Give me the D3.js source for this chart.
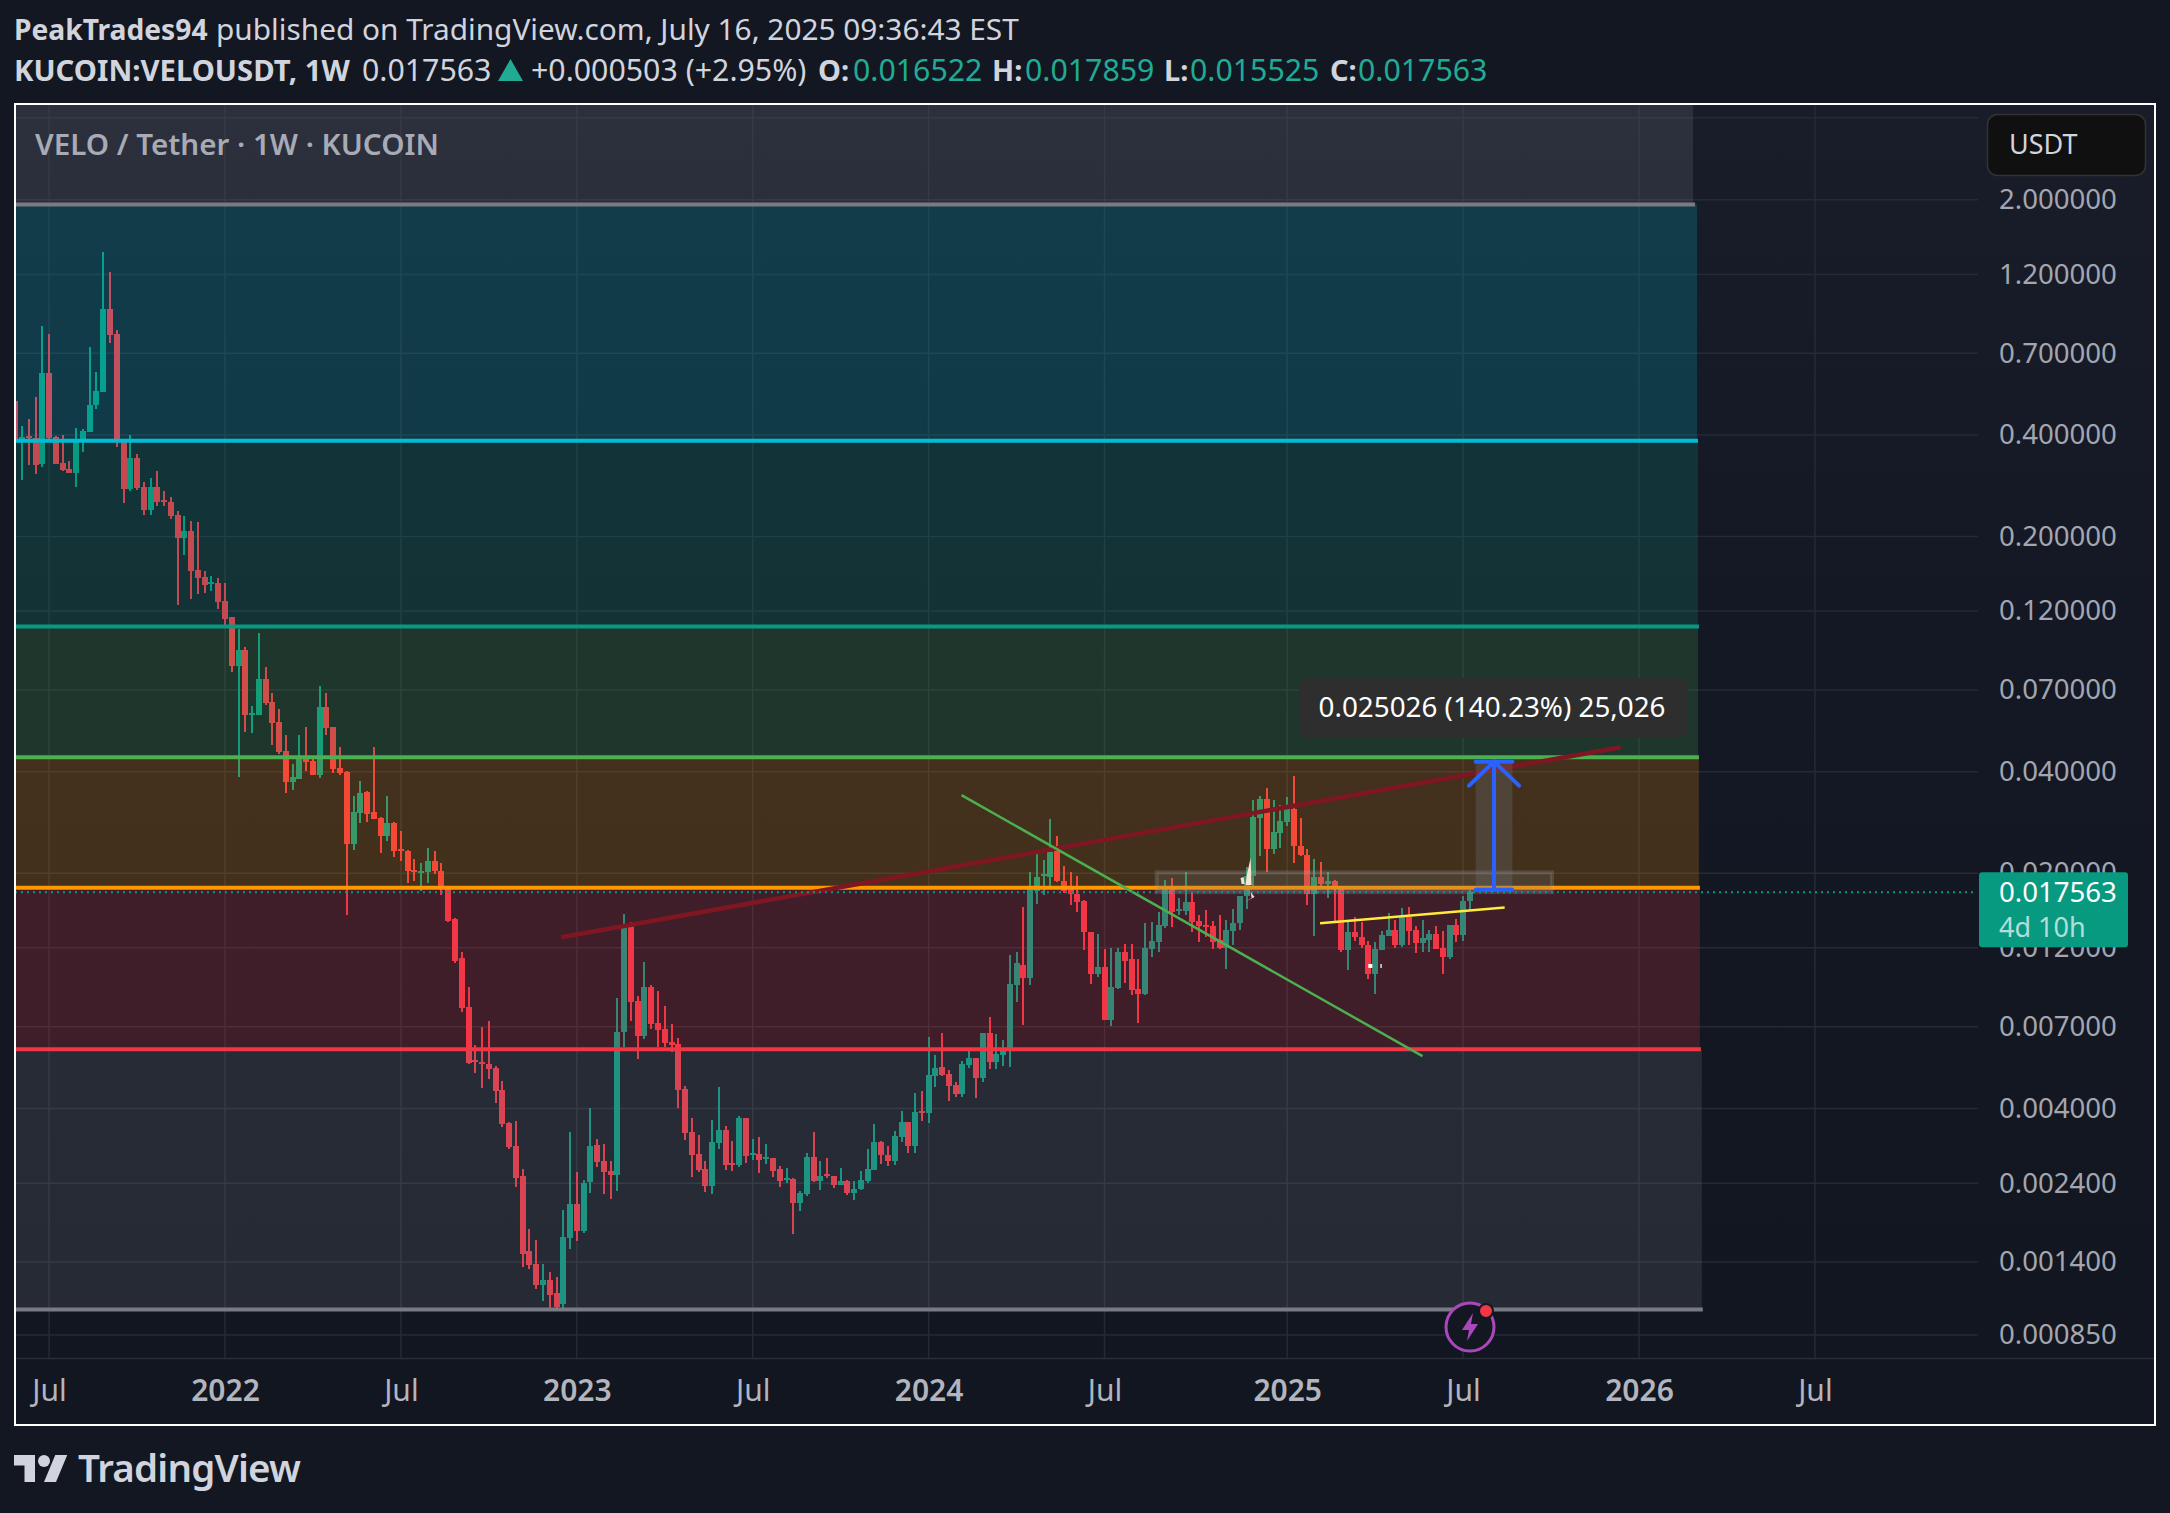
<!DOCTYPE html>
<html>
<head>
<meta charset="utf-8">
<title>VELOUSDT 1W</title>
<script src="https://cdn.jsdelivr.net/npm/d3@7/dist/d3.min.js"></script>
<style>
  html, body { margin: 0; padding: 0; background: #131722; }
  svg { display: block; }
  text { font-family: "Noto Sans", sans-serif; }
</style>
</head>
<body>
<div id="chart"></div>
<script>
// Weekly candles, first one is the week of 2021-05-31
var firstWeek = '2021-05-31';
var opens = [
  .505,.381,.397,.391,.328,.611,.394,.330,.317,.309,
  .381,.408,.491,.536,.947,.798,.387,.276,.342,.280,
  .239,.280,.257,.253,.231,.198,.207,.159,.152,.144,
  .145,.129,.115,.0825,.0920,.0590,.0590,.0756,.0645,.0563,
  .0461,.0373,.0381,.0437,.0431,.0391,.0623,.0544,.0411,.0400,
  .0244,.0302,.0348,.0304,.0292,.0257,.0282,.0236,.0232,.0204,
  .0201,.0201,.0217,.0203,.0181,.0146,.0112,.00800,.00557,.00550,
  .00542,.00528,.00454,.00362,.00309,.00252,.00151,.00138,.00120,.00124,
  .00113,.00105,.00165,.00208,.00173,.00242,.00312,.00279,.00261,.00254,
  .00675,.0139,.00834,.00656,.00918,.00718,.00689,.00630,.00622,.00457,
  .00340,.00293,.00265,.00236,.00316,.00345,.00275,.00272,.00375,.00291,
  .00293,.00283,.00285,.00265,.00245,.00247,.00209,.00223,.00287,.00244,
  .00256,.00252,.00237,.00244,.00224,.00231,.00244,.00263,.00318,.00291,
  .00279,.00329,.00365,.00309,.00393,.00388,.00499,.00531,.00506,.00469,
  .00442,.00538,.00565,.00493,.00670,.00550,.00576,.00593,.00931,.0107,
  .00976,.0177,.0196,.0195,.0234,.0190,.0179,.0173,.0165,.0134,
  .0100,.0105,.00733,.00912,.0117,.0111,.00905,.00875,.0119,.0125,
  .0139,.0179,.0154,.0154,.0164,.0144,.0140,.0139,.0127,.0120,
  .0135,.0142,.0171,.0196,.0292,.0332,.0236,.0264,.0284,.0311,
  .0241,.0226,.0173,.0195,.0186,.0190,.0183,.0118,.0134,.0129,
  .0122,.0100,.0118,.0130,.0136,.0122,.0148,.0136,.0124,.0127,
  .0132,.0120,.0113,.0140,.0131,.016522
];
var highs = [
  .505,.425,.446,.519,.843,.798,.397,.400,.335,.419,
  .416,.730,.615,1.398,1.22,.820,.387,.400,.351,.290,
  .298,.313,.273,.261,.238,.230,.222,.221,.158,.153,
  .150,.145,.115,.106,.0940,.0628,.1030,.0820,.0686,.0615,
  .0515,.0422,.0515,.0544,.0437,.0720,.0686,.0544,.0474,.0403,
  .0339,.0376,.0351,.0474,.0294,.0339,.0284,.0267,.0234,.0221,
  .0215,.0238,.0232,.0215,.0181,.0147,.0117,.00918,.00617,.00698,
  .00727,.00535,.00483,.00365,.00367,.00265,.00176,.00163,.00138,.00131,
  .00126,.00200,.00340,.00259,.00245,.00401,.00324,.00314,.00279,.00852,
  .0151,.0143,.00864,.0109,.00931,.00893,.00806,.00713,.00648,.00466,
  .00375,.00334,.00279,.00370,.00463,.00355,.00320,.00380,.00375,.00324,
  .00329,.00314,.00285,.00270,.00266,.00248,.00228,.00295,.00340,.00279,
  .00285,.00252,.00266,.00245,.00244,.00261,.00303,.00359,.00320,.00309,
  .00343,.00393,.00365,.00445,.00451,.00652,.00576,.00670,.00520,.00480,
  .00553,.00593,.00565,.00670,.00748,.00665,.00639,.0114,.0117,.0159,
  .0202,.0228,.0219,.0290,.0257,.0210,.0201,.0196,.0166,.0134,
  .0132,.0119,.0120,.0120,.0123,.0123,.0111,.0142,.0143,.0153,
  .0191,.0194,.0169,.0201,.0176,.0150,.0155,.0144,.0150,.0145,
  .0157,.0171,.0208,.0330,.0339,.0358,.0330,.0319,.0337,.0389,
  .0292,.0236,.0221,.0216,.0202,.0191,.0183,.0145,.0148,.0143,
  .0126,.0125,.0135,.0152,.0145,.0158,.0159,.0139,.0145,.0136,
  .0139,.0135,.0140,.0146,.0171,.017859
];
var lows = [
  .387,.294,.325,.306,.321,.387,.328,.313,.309,.280,
  .356,.408,.478,.536,.750,.368,.251,.273,.275,.231,
  .231,.246,.246,.225,.125,.176,.130,.135,.136,.138,
  .122,.109,.0791,.0387,.0525,.0522,.0590,.0632,.0481,.0452,
  .0346,.0353,.0381,.0403,.0391,.0384,.0515,.0397,.0391,.0150,
  .0234,.0282,.0284,.0290,.0230,.0249,.0224,.0217,.0187,.0190,
  .0177,.0187,.0199,.0172,.0143,.0108,.00775,.00542,.00510,.00460,
  .00490,.00415,.00352,.00303,.00234,.00135,.00133,.00116,.00107,.00101,
  .00101,.00102,.00153,.00162,.00171,.00224,.00268,.00223,.00215,.00228,
  .00609,.00727,.00561,.00643,.00689,.00609,.00609,.00588,.00401,.00322,
  .00250,.00259,.00226,.00223,.00303,.00263,.00261,.00268,.00275,.00281,
  .00257,.00274,.00250,.00234,.00240,.00169,.00199,.00220,.00242,.00229,
  .00248,.00232,.00237,.00221,.00214,.00229,.00240,.00263,.00274,.00270,
  .00272,.00318,.00295,.00295,.00367,.00362,.00463,.00499,.00421,.00432,
  .00432,.00528,.00429,.00480,.00524,.00524,.00535,.00531,.00829,.00707,
  .00931,.0162,.0172,.0179,.0188,.0175,.0161,.0153,.0118,.00937,
  .00983,.00733,.00703,.00905,.00943,.00870,.00718,.00870,.0113,.0117,
  .0137,.0138,.0150,.0150,.0134,.0125,.0129,.0119,.0119,.0104,
  .0122,.0136,.0157,.0183,.0225,.0201,.0228,.0238,.0276,.0215,
  .0225,.0161,.0130,.0183,.0169,.0144,.0117,.0103,.0126,.0120,
  .00970,.00875,.0118,.0130,.0120,.0121,.0122,.0116,.0117,.0117,
  .0119,.0100,.0111,.0125,.0126,.015525
];
var closes = [
  .387,.394,.391,.325,.611,.391,.328,.315,.309,.384,
  .411,.491,.540,.947,.792,.387,.276,.342,.278,.239,
  .280,.253,.253,.230,.198,.207,.158,.151,.143,.146,
  .128,.114,.0825,.0920,.0590,.0599,.0756,.0641,.0559,.0458,
  .0373,.0387,.0443,.0428,.0391,.0623,.0540,.0408,.0397,.0244,
  .0304,.0346,.0300,.0290,.0257,.0282,.0232,.0232,.0203,.0201,
  .0203,.0217,.0203,.0183,.0144,.0110,.00795,.00546,.00550,.00542,
  .00524,.00451,.00359,.00307,.00248,.00148,.00137,.00120,.00124,.00112,
  .00103,.00166,.00208,.00173,.00240,.00309,.00277,.00259,.00254,.00675,
  .0138,.00829,.00656,.00918,.00713,.00684,.00626,.00617,.00454,.00338,
  .00291,.00263,.00236,.00318,.00345,.00272,.00272,.00375,.00289,.00295,
  .00281,.00287,.00261,.00244,.00248,.00209,.00224,.00287,.00244,.00252,
  .00252,.00237,.00244,.00224,.00231,.00245,.00265,.00318,.00291,.00279,
  .00331,.00365,.00309,.00390,.00388,.00503,.00528,.00503,.00466,.00442,
  .00542,.00565,.00493,.00670,.00550,.00580,.00593,.00937,.0108,.00976,
  .0179,.0195,.0199,.0231,.0190,.0177,.0173,.0164,.0134,.0100,
  .0105,.00733,.00918,.0117,.0110,.00899,.00875,.0120,.0126,.0140,
  .0179,.0153,.0157,.0164,.0143,.0139,.0139,.0125,.0120,.0136,
  .0142,.0171,.0196,.0294,.0332,.0236,.0265,.0286,.0311,.0240,
  .0226,.0173,.0195,.0186,.0190,.0183,.0118,.0134,.0129,.0122,
  .0100,.0119,.0131,.0136,.0122,.0148,.0135,.0124,.0128,.0132,
  .0119,.0113,.0140,.0131,.0165,.017563
];

// Axis ticks
var priceTicks = [2, 1.2, .7, .4, .2, .12, .07, .04, .02, .012, .007, .004, .0024, .0014, .00085];
var priceGridExtra = [3.5];
var timeTickDates = ['2021-07-05', '2022-01-03', '2022-07-04', '2023-01-02', '2023-07-03', '2024-01-01',
  '2024-07-01', '2025-01-06', '2025-07-07', '2026-01-05', '2026-07-06'];
var timeTickLabels = ['Jul', '2022', 'Jul', '2023', 'Jul', '2024', 'Jul', '2025', 'Jul', '2026', 'Jul'];

// Horizontal levels and the band under each of them
var levelPrices = [1.936, .385, .108, .0442, .01811, .005996, .001012];
var levelColors = ['#787b86', '#00bcd4', '#089981', '#4caf50', '#ff9800', '#f23645', '#787b86'];
var levelEnds = ['2026-03-03', '2026-03-06', '2026-03-07', '2026-03-07', '2026-03-08', '2026-03-09', '2026-03-11'];
var stripTopPrice = 4.2;

// Drawn trend lines
var trendDates = [['2022-12-17', '2025-12-17'], ['2024-02-04', '2025-05-26'], ['2025-02-09', '2025-08-19']];
var trendPrices = [[.0129, .0473], [.0341, .00572], [.0142, .0158]];
var trendColors = ['#7f1722', '#4caf50', '#ffeb3b'];
var trendWidths = [4.5, 2.5, 2.5];

// Grey box around the breakout level
var boxDates = ['2024-08-24', '2025-10-07'];
var boxPrices = [.0201, .01756];

// Measure arrow
var arrowDates = ['2025-07-20', '2025-08-27'];
var arrowPrices = [.017846, .042872];
var arrowLabel = '0.025026 (140.23%) 25,026';

var lastPrice = 0.017563;
var greenColor = '#089981', redColor = '#f23645', tealText = '#22ab94';

var width = 2170,
  height = 1513,
  pane = {left: 15, right: 1978, top: 104, bottom: 1358};

var parseDay = d3.utcParse('%Y-%m-%d');

var svg = d3.select('#chart').append('svg')
  .attr('width', width)
  .attr('height', height);

var defs = svg.append('defs');
var bg = defs.append('linearGradient').attr('id', 'paneBg').attr('x1', 0).attr('x2', 0).attr('y1', 0).attr('y2', 1);
bg.append('stop').attr('offset', 0).attr('stop-color', '#191d29');
bg.append('stop').attr('offset', 0.4).attr('stop-color', '#141824');
bg.append('stop').attr('offset', 1).attr('stop-color', '#121620');
defs.append('clipPath').attr('id', 'paneClip').append('rect')
  .attr('x', pane.left).attr('y', pane.top)
  .attr('width', pane.right - pane.left).attr('height', pane.bottom - pane.top);

// Scales, time is linear in weeks on this chart
var x = d3.scaleUtc()
  .domain([parseDay('2022-01-03'), parseDay('2026-01-05')])
  .range([225, 1639]);
var y = d3.scaleLog()
  .domain([1, 0.001])
  .range([301.06, 1311.2]);

// Frame and pane background
svg.append('rect').attr('x', 15).attr('y', 104).attr('width', 2140).attr('height', 1321).attr('fill', 'url(#paneBg)');

// Grid lines
var grid = svg.append('g');
grid.selectAll('line.v').data(timeTickDates).enter().append('line')
  .attr('class', 'v')
  .attr('x1', function (d) { return x(parseDay(d)); })
  .attr('x2', function (d) { return x(parseDay(d)); })
  .attr('y1', pane.top).attr('y2', pane.bottom)
  .attr('stroke', '#262a35').attr('stroke-width', 1.5);
grid.selectAll('line.h').data(priceGridExtra.concat(priceTicks)).enter().append('line')
  .attr('class', 'h')
  .attr('x1', pane.left).attr('x2', pane.right)
  .attr('y1', function (d) { return y(d); })
  .attr('y2', function (d) { return y(d); })
  .attr('stroke', '#262a35').attr('stroke-width', 1.5);
grid.append('line')
  .attr('x1', pane.left).attr('x2', 2155)
  .attr('y1', pane.bottom + 0.5).attr('y2', pane.bottom + 0.5)
  .attr('stroke', '#2a2e39').attr('stroke-width', 1.5);

var plot = svg.append('g').attr('clip-path', 'url(#paneClip)');

// Candles
var candles = plot.append('g').attr('shape-rendering', 'crispEdges')
  .selectAll('g').data(d3.range(opens.length)).enter().append('g');
function candleX(i) {
  return Math.round(x(d3.utcMonday.offset(parseDay(firstWeek), i)));
}
function candleColor(i) {
  return closes[i] >= opens[i] ? greenColor : redColor;
}
candles.append('rect')
  .attr('x', function (i) { return candleX(i) - 1; })
  .attr('width', 2)
  .attr('y', function (i) { return y(highs[i]); })
  .attr('height', function (i) { return y(lows[i]) - y(highs[i]); })
  .attr('fill', candleColor);
candles.append('rect')
  .attr('x', function (i) { return candleX(i) - 3; })
  .attr('width', 6)
  .attr('y', function (i) { return y(Math.max(opens[i], closes[i])); })
  .attr('height', function (i) { return Math.max(2, Math.abs(y(opens[i]) - y(closes[i]))); })
  .attr('fill', candleColor);

// The strip above the top level and the coloured bands
plot.append('rect')
  .attr('x', pane.left).attr('width', 1693 - pane.left)
  .attr('y', y(stripTopPrice)).attr('height', y(levelPrices[0]) - y(stripTopPrice))
  .attr('fill', levelColors[0]).attr('fill-opacity', 0.2);
plot.selectAll('rect.band').data(d3.range(1, levelPrices.length)).enter().append('rect')
  .attr('class', 'band')
  .attr('x', pane.left)
  .attr('width', function (i) { return x(parseDay(levelEnds[i])) - pane.left; })
  .attr('y', function (i) { return y(levelPrices[i - 1]); })
  .attr('height', function (i) { return y(levelPrices[i]) - y(levelPrices[i - 1]); })
  .attr('fill', function (i) { return levelColors[i]; })
  .attr('fill-opacity', 0.2);
plot.selectAll('line.level').data(levelPrices).enter().append('line')
  .attr('class', 'level')
  .attr('x1', pane.left)
  .attr('x2', function (d, i) { return x(parseDay(levelEnds[i])) + 1; })
  .attr('y1', function (d) { return y(d); })
  .attr('y2', function (d) { return y(d); })
  .attr('stroke', function (d, i) { return levelColors[i]; })
  .attr('stroke-width', 4);

// Last price dotted line
svg.append('line')
  .attr('x1', pane.left).attr('x2', pane.right - 2)
  .attr('y1', y(lastPrice)).attr('y2', y(lastPrice))
  .attr('stroke', greenColor).attr('stroke-width', 2).attr('stroke-dasharray', '2 4');

// Grey box
plot.append('rect')
  .attr('x', x(parseDay(boxDates[0]))).attr('width', x(parseDay(boxDates[1])) - x(parseDay(boxDates[0])))
  .attr('y', y(boxPrices[0])).attr('height', y(boxPrices[1]) - y(boxPrices[0]))
  .attr('fill', '#787b86').attr('fill-opacity', 0.2)
  .attr('stroke', '#b2b5be').attr('stroke-opacity', 0.2).attr('stroke-width', 4);

// Trend lines
plot.selectAll('line.trend').data(d3.range(trendDates.length)).enter().append('line')
  .attr('class', 'trend')
  .attr('x1', function (i) { return x(parseDay(trendDates[i][0])); })
  .attr('x2', function (i) { return x(parseDay(trendDates[i][1])); })
  .attr('y1', function (i) { return y(trendPrices[i][0]); })
  .attr('y2', function (i) { return y(trendPrices[i][1]); })
  .attr('stroke', function (i) { return trendColors[i]; })
  .attr('stroke-width', function (i) { return trendWidths[i]; });

// Measure arrow with its shaded column and label
var ax0 = x(parseDay(arrowDates[0])), ax1 = x(parseDay(arrowDates[1])), axm = (ax0 + ax1) / 2,
  ay0 = y(arrowPrices[0]), ay1 = y(arrowPrices[1]);
plot.append('rect')
  .attr('x', ax0).attr('width', ax1 - ax0).attr('y', ay1).attr('height', ay0 - ay1)
  .attr('fill', '#787b86').attr('fill-opacity', 0.25);
var arrow = plot.append('g').attr('fill', 'none').attr('stroke', '#2962ff').attr('stroke-width', 4).attr('stroke-linecap', 'round');
arrow.append('line').attr('x1', axm).attr('x2', axm).attr('y1', ay0).attr('y2', ay1);
arrow.append('line').attr('x1', ax0).attr('x2', ax1).attr('y1', ay0).attr('y2', ay0);
arrow.append('line').attr('x1', ax0).attr('x2', ax1).attr('y1', ay1).attr('y2', ay1);
arrow.append('path').attr('d', 'M' + (axm - 25) + ',' + (ay1 + 24) + 'L' + axm + ',' + ay1 + 'L' + (axm + 25) + ',' + (ay1 + 24));

svg.append('rect').attr('x', axm - 195).attr('y', ay1 - 84).attr('width', 389).attr('height', 60).attr('rx', 10).attr('fill', '#2e2e2e');
svg.append('text').attr('x', axm - 2).attr('y', ay1 - 45).attr('text-anchor', 'middle')
  .attr('fill', '#ffffff').attr('font-size', 27.8).text(arrowLabel);

// Small stray marks left on the chart
var strayAnchor = svg.append('g').attr('transform', 'translate(' + x(parseDay('2024-11-25')) + ',' + y(.0196) + ')');
strayAnchor.append('path').attr('d', 'M4,-18 L0,0 L-1,9 L5,9 Z').attr('fill', '#f7e6d2');
strayAnchor.append('path').attr('d', 'M-2,26 L8,21 L4,16 L5,22 Z').attr('fill', '#f7d5d5');
strayAnchor.append('path').attr('d', 'M-6,2 L-3,1 L-2,8 L-5,8 Z').attr('fill', '#e7e7e0');
var specks = svg.append('g').attr('transform', 'translate(' + x(parseDay('2025-04-02')) + ',' + y(.0106) + ')');
specks.append('rect').attr('x', -2).attr('y', -2).attr('width', 4).attr('height', 4).attr('fill', '#ffffff');
specks.append('rect').attr('x', 10).attr('y', -2).attr('width', 1.5).attr('height', 4).attr('fill', '#e0e0e0');

// Axes
var priceAxis = d3.axisRight(y)
  .tickValues(priceTicks)
  .tickSize(0)
  .tickPadding(0)
  .tickFormat(d3.format('.6f'));
var gy = svg.append('g').attr('transform', 'translate(1999,0)').call(priceAxis);
gy.select('.domain').remove();
gy.selectAll('text').attr('fill', '#a3a6af').attr('font-size', 27.6).attr('font-family', '"Noto Sans", sans-serif');

var timeAxis = d3.axisBottom(x)
  .tickValues(timeTickDates.map(parseDay))
  .tickSize(0)
  .tickPadding(0)
  .tickFormat(function (d, i) { return timeTickLabels[i]; });
var gx = svg.append('g').attr('transform', 'translate(0,1380)').call(timeAxis);
gx.select('.domain').remove();
gx.selectAll('text')
  .attr('fill', '#b2b5be')
  .attr('font-size', 30)
  .attr('font-family', '"Noto Sans", sans-serif')
  .attr('font-weight', function (d, i) { return timeTickLabels[i] === 'Jul' ? 400 : 600; });

// Last price tag
svg.append('rect').attr('x', 1979).attr('y', y(lastPrice) - 20).attr('width', 149).attr('height', 75).attr('rx', 3).attr('fill', greenColor);
svg.append('text').attr('x', 1999).attr('y', y(lastPrice) + 10).attr('fill', '#ffffff').attr('font-size', 27.6).text('0.017563');
svg.append('text').attr('x', 1999).attr('y', y(lastPrice) + 45).attr('fill', '#ffffff').attr('fill-opacity', 0.7).attr('font-size', 27).text('4d 10h');

// Currency badge
svg.append('rect').attr('x', 1987.5).attr('y', 114.5).attr('width', 158).attr('height', 61).attr('rx', 10)
  .attr('fill', '#101010').attr('stroke', '#333333').attr('stroke-width', 1.5);
svg.append('text').attr('x', 2009).attr('y', 154).attr('fill', '#d1d4dc').attr('font-size', 27).text('USDT');

// Pane title
svg.append('text').attr('x', 35).attr('y', 155).attr('fill', '#a8aab5').attr('font-size', 29.6).attr('font-weight', 600)
  .text('VELO / Tether · 1W · KUCOIN');

// Header lines
var line1 = svg.append('g').attr('fill', '#d1d4dc');
line1.append('text').attr('x', 14).attr('y', 40).attr('font-size', 28.2).attr('font-weight', 700).text('PeakTrades94');
line1.append('text').attr('x', 216).attr('y', 40).attr('font-size', 29.8).text('published on TradingView.com, July 16, 2025 09:36:43 EST');

var header = svg.append('g').attr('font-size', 30.3).attr('fill', '#d1d4dc');
header.append('text').attr('x', 14).attr('y', 81).attr('font-size', 29.3).attr('font-weight', 700).text('KUCOIN:VELOUSDT, 1W');
header.append('text').attr('x', 362).attr('y', 81).text('0.017563');
header.append('path').attr('d', 'M498,81 L510.5,59 L523,81 Z').attr('fill', tealText);
header.append('text').attr('x', 531).attr('y', 81).text('+0.000503 (+2.95%)');
var ohlcLabels = ['O:', 'H:', 'L:', 'C:'];
var ohlcValues = ['0.016522', '0.017859', '0.015525', '0.017563'];
var ohlcLabelX = [818, 992, 1164, 1330], ohlcValueX = [853, 1025, 1190, 1358];
ohlcLabels.forEach(function (label, i) {
  header.append('text').attr('x', ohlcLabelX[i]).attr('y', 81).attr('font-size', 29).attr('font-weight', 700).text(label);
  header.append('text').attr('x', ohlcValueX[i]).attr('y', 81).attr('fill', tealText).text(ohlcValues[i]);
});

// Pane border
svg.append('rect').attr('x', 15).attr('y', 104).attr('width', 2140).attr('height', 1321)
  .attr('fill', 'none').attr('stroke', '#ffffff').attr('stroke-width', 2);

// Lightning badge
var bolt = svg.append('g').attr('transform', 'translate(1470,1327)');
bolt.append('circle').attr('r', 24).attr('fill', '#131722').attr('stroke', '#ab47bc').attr('stroke-width', 3);
bolt.append('path').attr('d', 'M3,-14 L-8,3 L-1,3 L-3,14 L8,-3 L1,-3 Z').attr('fill', '#ab47bc');
bolt.append('circle').attr('cx', 16).attr('cy', -16).attr('r', 7).attr('fill', '#f23645').attr('stroke', '#131722').attr('stroke-width', 2);

// TradingView logo
var logo = svg.append('g').attr('fill', '#d1d4dc');
logo.append('path').attr('transform', 'translate(14,1449) scale(1.5)')
  .attr('d', 'M14 22H7V11H0V4h14v18zM28 22h-8l7.5-18h8L28 22z');
logo.append('circle').attr('transform', 'translate(14,1449) scale(1.5)').attr('cx', 20).attr('cy', 8).attr('r', 4);
logo.append('text').attr('x', 78).attr('y', 1482).attr('font-size', 38.5).attr('font-weight', 600).attr('letter-spacing', -0.8).text('TradingView');
</script>
</body>
</html>
